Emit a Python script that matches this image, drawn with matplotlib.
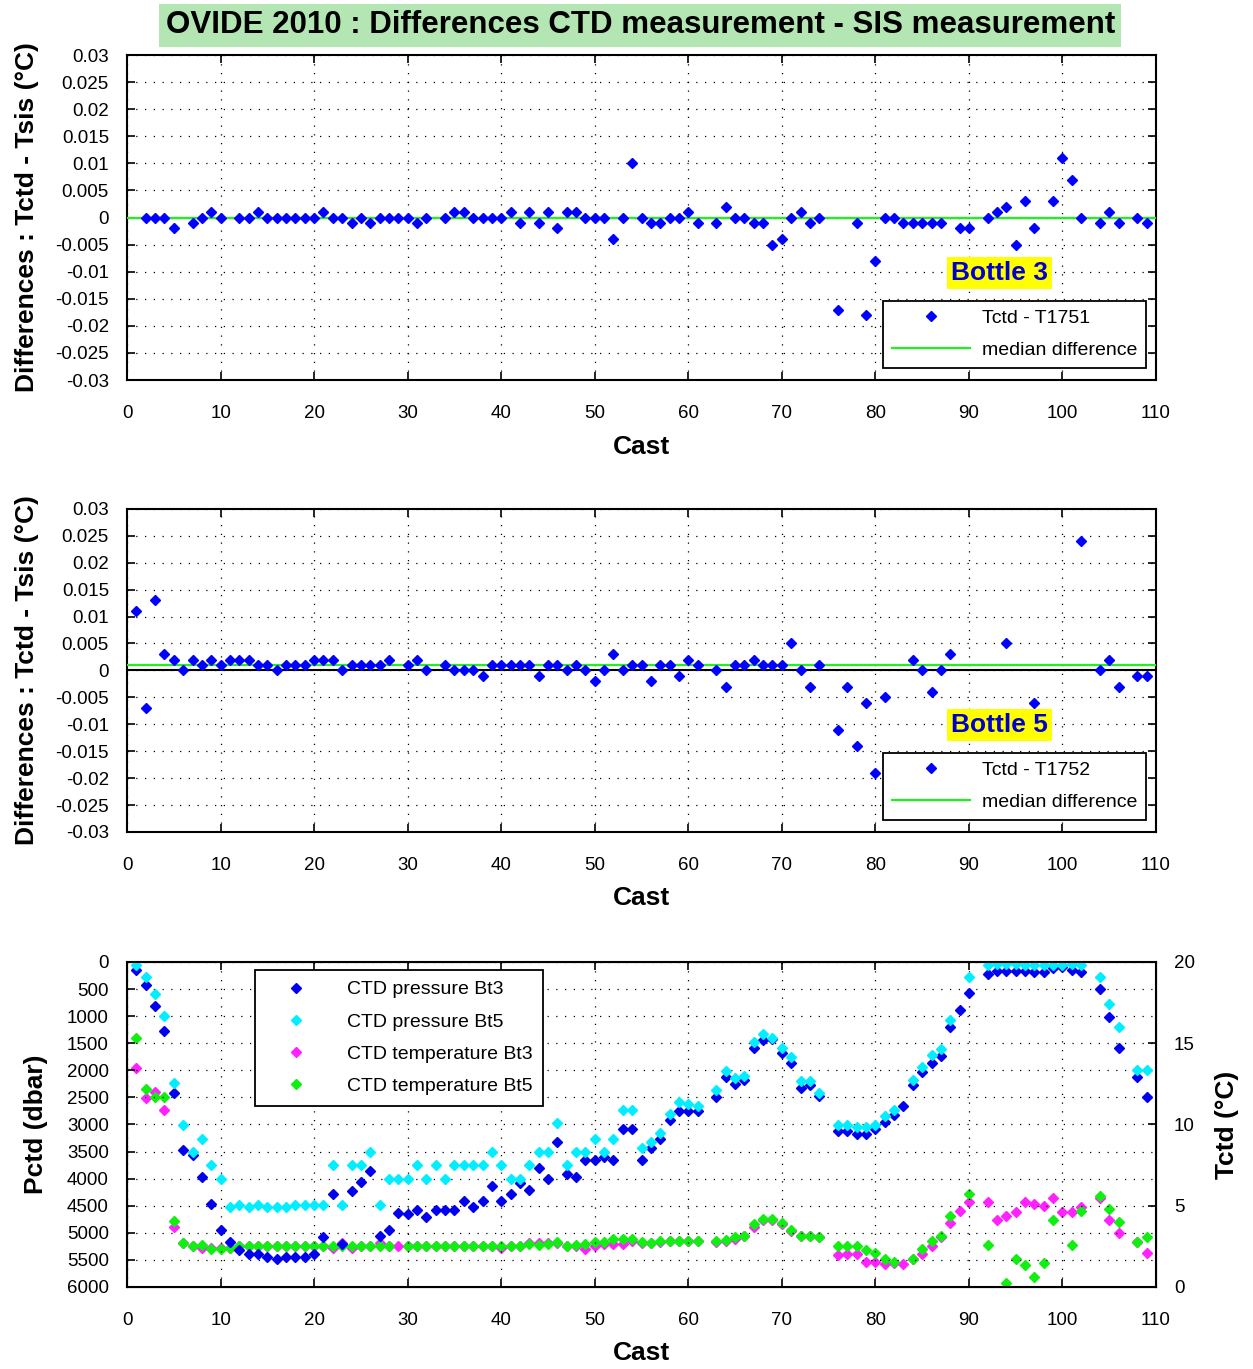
import numpy as np
import matplotlib.pyplot as plt

plt.rcParams['font.family'] = ['Liberation Sans', 'DejaVu Sans']

'''DATA'''

# Bottle 3 : Tctd - T1751
casts_bt3 = [2, 3, 4, 5, 7, 8, 9, 10, 12, 13, 14, 15, 16, 17, 18, 19, 20, 21, 22, 23, 24, 25, 26, 27, 28, 29,
             30, 31, 32, 34, 35, 36, 37, 38, 39, 40, 41, 42, 43, 44, 45, 46, 47, 48, 49, 50, 51, 52, 53, 54,
             55, 56, 57, 58, 59, 60, 61, 63, 64, 65, 66, 67, 68, 69, 70, 71, 72, 73, 74, 76, 78, 79, 80, 81,
             82, 83, 84, 85, 86, 87, 89, 90, 92, 93, 94, 95, 96, 97, 99, 100, 101, 102, 104, 105, 106, 108, 109]
diff_bt3 = [0, 0, 0, -0.002, -0.001, 0, 0.001, 0, 0, 0, 0.001, 0, 0, 0, 0, 0, 0, 0.001, 0, 0, -0.001, 0,
            -0.001, 0, 0, 0, 0, -0.001, 0, 0, 0.001, 0.001, 0, 0, 0, 0, 0.001, -0.001, 0.001, -0.001, 0.001,
            -0.002, 0.001, 0.001, 0, 0, 0, -0.004, 0, 0.010, 0, -0.001, -0.001, 0, 0, 0.001, -0.001, -0.001,
            0.002, 0, 0, -0.001, -0.001, -0.005, -0.004, 0, 0.001, -0.001, 0, -0.017, -0.001, -0.018, -0.008,
            0, 0, -0.001, -0.001, -0.001, -0.001, -0.001, -0.002, -0.002, 0, 0.001, 0.002, -0.005, 0.003,
            -0.002, 0.003, 0.011, 0.007, 0, -0.001, 0.001, -0.001, 0, -0.001]
median_bt3 = 0.0

# Bottle 5 : Tctd - T1752
casts_bt5 = [1, 2, 3, 4, 5, 6, 7, 8, 9, 10, 11, 12, 13, 14, 15, 16, 17, 18, 19, 20, 21, 22, 23, 24, 25, 26,
             27, 28, 30, 31, 32, 34, 35, 36, 37, 38, 39, 40, 41, 42, 43, 44, 45, 46, 47, 48, 49, 50, 51, 52,
             53, 54, 55, 56, 57, 58, 59, 60, 61, 63, 64, 65, 66, 67, 68, 69, 70, 71, 72, 73, 74, 76, 77, 78,
             79, 80, 81, 84, 85, 86, 87, 88, 94, 97, 102, 104, 105, 106, 108, 109]
diff_bt5 = [0.011, -0.007, 0.013, 0.003, 0.002, 0, 0.002, 0.001, 0.002, 0.001, 0.002, 0.002, 0.002, 0.001,
            0.001, 0, 0.001, 0.001, 0.001, 0.002, 0.002, 0.002, 0, 0.001, 0.001, 0.001, 0.001, 0.002, 0.001,
            0.002, 0, 0.001, 0, 0, 0, -0.001, 0.001, 0.001, 0.001, 0.001, 0.001, -0.001, 0.001, 0.001, 0,
            0.001, 0, -0.002, 0, 0.003, 0, 0.001, 0.001, -0.002, 0.001, 0.001, -0.001, 0.002, 0.001, 0,
            -0.003, 0.001, 0.001, 0.002, 0.001, 0.001, 0.001, 0.005, 0, -0.003, 0.001, -0.011, -0.003,
            -0.014, -0.006, -0.019, -0.005, 0.002, 0, -0.004, 0, 0.003, 0.005, -0.006, 0.024, 0, 0.002,
            -0.003, -0.001, -0.001]
median_bt5 = 0.001

# CTD pressure / temperature at bottles 3 and 5 (NaN = no value)
casts_all = list(range(1, 110))
nan = np.nan
pres_bt3 = [150, 420, 810, 1270, 2420, 3470, 3570, 3970, 4460, 4940,
            5170, 5320, 5390, 5400, 5450, 5490, 5450, 5450, 5450, 5400,
            5080, 4280, 5200, 4230, 4060, 3850, 5050, 4940, 4630, 4660,
            4580, 4710, 4580, 4580, 4580, 4420, 4520, 4420, 4140, 4420,
            4290, 4080, 4210, 3800, 4000, 3320, 3920, 3970, 3650, 3650,
            3600, 3650, 3090, 3090, 3650, 3440, 3270, 2920, 2760, 2760,
            2760, nan, 2500, 2130, 2250, 2170, 1580, 1440, 1420, 1680,
            1870, 2320, 2270, 2480, nan, 3120, 3120, 3170, 3170, 3090,
            2960, 2830, 2650, 2280, 2040, 1870, 1730, 1200, 880, 570,
            nan, 220, 160, 160, 160, 160, 185, 185, 110, 100,
            140, 185, nan, 490, 1020, 1580, nan, 2120, 2490]
pres_bt5 = [50, 280, 590, 990, 2240, 3010, 3500, 3260, 3750, 4000,
            4520, 4490, 4520, 4490, 4520, 4520, 4520, 4490, 4490, 4490,
            4490, 3750, 4490, 3750, 3750, 3500, 4490, 4000, 4000, 4000,
            3750, 4000, 3750, 4000, 3750, 3750, 3750, 3750, 3500, 3750,
            4000, 4000, 3750, 3500, 3500, 2980, 3750, 3500, 3500, 3260,
            3500, 3260, 2730, 2730, 3430, 3320, 3150, 2800, 2590, 2620,
            2650, nan, 2360, 2020, 2140, 2100, 1470, 1330, 1410, 1580,
            1750, 2200, 2200, 2410, nan, 3010, 3010, 3040, 3040, 3010,
            2840, 2730, nan, 2170, 1930, 1720, 1600, 1070, nan, 280,
            nan, 60, 40, 40, 40, 50, 50, 50, 50, 50,
            40, 50, nan, 280, 780, 1200, nan, 1990, 1990]
temp_bt3 = [13.5, 11.6, 12.0, 10.9, 3.7, 2.7, 2.5, 2.4, 2.4, 2.4,
            2.4, 2.5, 2.5, 2.5, 2.5, 2.5, 2.5, 2.5, 2.5, 2.5,
            2.5, 2.4, 2.7, 2.4, 2.5, 2.5, 2.7, 2.5, 2.5, 2.5,
            2.5, 2.5, 2.5, 2.5, 2.5, 2.5, 2.5, 2.5, 2.5, 2.4,
            2.5, 2.5, 2.7, 2.7, 2.7, 2.7, 2.5, 2.5, 2.35, 2.5,
            2.65, 2.65, 2.65, 2.85, 2.7, 2.7, 2.75, 2.8, 2.8, 2.8,
            2.8, nan, 2.75, 2.8, 2.95, 3.15, 3.7, 4.1, 4.1, 3.9,
            3.45, 3.15, 3.15, 3.05, nan, 1.95, 2.05, 2.0, 1.55, 1.55,
            1.4, 1.5, 1.4, 1.75, 2.05, 2.55, 3.05, 3.95, 4.65, 5.2,
            nan, 5.2, 4.1, 4.35, 4.6, 5.2, 5.1, 5.0, 5.5, 4.6,
            4.6, 4.95, nan, 5.5, 4.1, 3.35, nan, 2.75, 2.1]
temp_bt5 = [15.3, 12.2, 11.7, 11.7, 4.05, 2.7, 2.5, 2.6, 2.35, 2.35,
            2.4, 2.5, 2.5, 2.5, 2.5, 2.5, 2.5, 2.5, 2.5, 2.5,
            2.5, 2.5, 2.5, 2.5, 2.5, 2.5, 2.5, 2.5, nan, 2.5,
            2.5, 2.5, 2.5, 2.5, 2.5, 2.5, 2.5, 2.5, 2.5, 2.5,
            2.5, 2.5, 2.65, 2.6, 2.65, 2.75, 2.5, 2.6, 2.65, 2.75,
            2.75, 2.95, 2.95, 2.95, 2.75, 2.7, 2.8, 2.8, 2.8, 2.8,
            2.8, nan, 2.8, 2.9, 3.05, 3.15, 3.85, 4.2, 4.2, 3.95,
            3.5, 3.15, 3.15, 3.05, nan, 2.5, 2.5, 2.5, 2.25, 2.1,
            1.7, 1.55, nan, 1.75, 2.35, 2.8, 3.15, 4.35, nan, 5.75,
            nan, 2.6, nan, 0.25, 1.75, 1.35, 0.6, 1.45, 4.1, nan,
            2.6, 4.7, nan, 5.6, 4.8, 4.0, nan, 2.75, 3.05]

# Tick labels
cast_ticks = list(range(0, 111, 10))
diff_ticks = [0.03, 0.025, 0.02, 0.015, 0.01, 0.005, 0, -0.005, -0.01, -0.015, -0.02, -0.025, -0.03]
diff_labels = ['0.03', '0.025', '0.02', '0.015', '0.01', '0.005', '0',
               '-0.005', '-0.01', '-0.015', '-0.02', '-0.025', '-0.03']
pres_ticks = list(range(0, 6001, 500))
temp_ticks = [0, 5, 10, 15, 20]


'''PLOT GRAPH'''

fig = plt.figure(figsize=(12.53, 13.69), dpi=100)

grid_kw = dict(color='black', linestyle=(0, (1, 6)), linewidth=0.9)
tick_kw = dict(direction='in', length=6, width=1.2, labelsize=13.5, top=True, right=True)


def style_axis(ax):
    ax.set_xlim(0, 110)
    ax.set_xticks(cast_ticks)
    ax.grid(True, **grid_kw)
    ax.tick_params(**tick_kw)
    ax.tick_params(axis='x', pad=18)
    ax.tick_params(axis='y', pad=13)
    for s in ax.spines.values():
        s.set_linewidth(1.5)
    ax.set_xlabel('Cast', fontsize=19, fontweight='bold', labelpad=9)


def diff_panel(rect, casts, diffs, median, legend_label, bottle_text):
    ax = fig.add_axes(rect)
    ax.axhline(0, color='black', linewidth=1.5, zorder=2)
    ax.axhline(median, color='#22ee22', linewidth=1.6, zorder=3, label='median difference')
    ax.plot(casts, diffs, linestyle='none', marker='D', markersize=5, color='blue',
            zorder=4, label=legend_label)
    style_axis(ax)
    ax.set_ylim(-0.03, 0.03)
    ax.set_yticks(diff_ticks)
    ax.set_yticklabels(diff_labels)
    ax.set_ylabel('Differences : Tctd - Tsis (°C)', fontsize=19, fontweight='bold', labelpad=12)
    # legend with marker entry first, then the median line
    h, l = ax.get_legend_handles_labels()
    leg = ax.legend([h[1], h[0]], [l[1], l[0]], loc='lower right', bbox_to_anchor=(0.99, 0.037),
                    borderaxespad=0, fontsize=14, frameon=True, fancybox=False, edgecolor='black',
                    framealpha=1, handlelength=4, handletextpad=0.6, borderpad=0.45, labelspacing=0.75)
    leg.get_frame().set_linewidth(1.3)
    ax.text(93.3, -0.0102, bottle_text, ha='center', va='center', fontsize=19, fontweight='bold',
            color='#0000cc', zorder=6,
            bbox=dict(boxstyle='square,pad=0.15', facecolor='yellow', edgecolor='none'))
    return ax


'''Bottle 3'''
ax1 = diff_panel([0.1014, 0.7224, 0.8212, 0.2374], casts_bt3, diff_bt3, median_bt3,
                 'Tctd - T1751', 'Bottle 3')

'''Bottle 5'''
ax2 = diff_panel([0.1014, 0.3923, 0.8212, 0.2360], casts_bt5, diff_bt5, median_bt5,
                 'Tctd - T1752', 'Bottle 5')

'''Pressure and temperature'''
ax3 = fig.add_axes([0.1014, 0.0599, 0.8212, 0.2374])
ax4 = ax3.twinx()
ax3.set_zorder(ax4.get_zorder() + 1)
ax3.patch.set_visible(False)

p1, = ax3.plot(casts_all, pres_bt3, linestyle='none', marker='D', markersize=5, color='#0000ee',
               label='CTD pressure Bt3')
p2, = ax3.plot(casts_all, pres_bt5, linestyle='none', marker='D', markersize=5, color='#00eeff',
               label='CTD pressure Bt5')
t1, = ax4.plot(casts_all, temp_bt3, linestyle='none', marker='D', markersize=5, color='#ff22ff',
               label='CTD temperature Bt3')
t2, = ax4.plot(casts_all, temp_bt5, linestyle='none', marker='D', markersize=5, color='#11ee11',
               label='CTD temperature Bt5')

style_axis(ax3)
ax3.set_ylim(6000, 0)
ax3.set_yticks(pres_ticks)
ax3.tick_params(right=False)
ax3.set_ylabel('Pctd (dbar)', fontsize=19, fontweight='bold', labelpad=14)

ax4.set_ylim(0, 20)
ax4.set_yticks(temp_ticks)
ax4.tick_params(direction='in', length=6, width=1.2, labelsize=13.5, pad=13)
ax4.set_ylabel('Tctd (°C)', fontsize=19, fontweight='bold', labelpad=14)

leg = ax3.legend([p1, p2, t1, t2], [p1.get_label(), p2.get_label(), t1.get_label(), t2.get_label()],
                 loc='upper left', bbox_to_anchor=(0.124, 0.975), borderaxespad=0, fontsize=14,
                 frameon=True, fancybox=False, edgecolor='black', framealpha=1, handlelength=3.2,
                 handletextpad=1.0, borderpad=0.55, labelspacing=0.75)
leg.get_frame().set_linewidth(1.3)

'''Title'''
fig.text(0.511, 0.9815, 'OVIDE 2010 : Differences CTD measurement - SIS measurement',
         ha='center', va='center', fontsize=22.5, fontweight='bold',
         bbox=dict(boxstyle='square,pad=0.2', facecolor='#b3e6b3', edgecolor='none'))

fig.savefig('out.png', dpi=100)
